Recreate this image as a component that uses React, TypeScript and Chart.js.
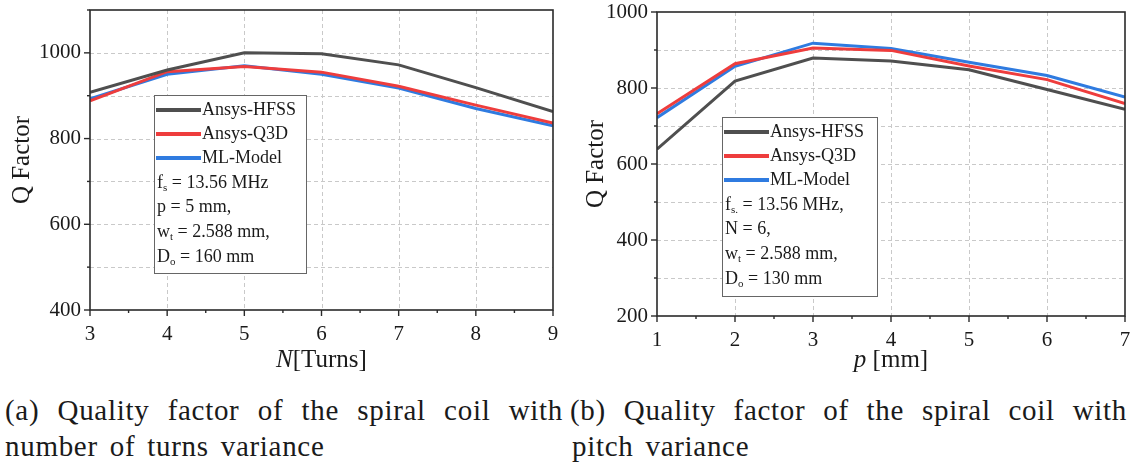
import React, { useEffect, useRef } from "react";
import { Chart, registerables } from "chart.js";
Chart.register(...registerables);

// ---------- data ----------
const turnsX = [3, 4, 5, 6, 7, 8, 9];
const turnsHFSS = [908, 960, 1000, 998, 972, 919, 863];
const turnsQ3D = [888, 956, 968, 955, 922, 878, 836];
const turnsML = [893, 950, 970, 950, 918, 870, 830];

const pitchX = [1, 2, 3, 4, 5, 6, 7];
const pitchHFSS = [639, 818, 879, 871, 848, 796, 744];
const pitchQ3D = [732, 864, 905, 899, 858, 822, 759];
const pitchML = [722, 857, 918, 904, 868, 833, 776];

const seriesNames = ["Ansys-HFSS", "Ansys-Q3D", "ML-Model"];
const seriesColors = ["#4f4f4f", "#ee3d3d", "#2f7be0"];

type Part = { t: string; sub?: boolean };
const turnsNotes: Part[][] = [
  [{ t: "f" }, { t: "s", sub: true }, { t: " = 13.56 MHz" }],
  [{ t: "p = 5 mm," }],
  [{ t: "w" }, { t: "t", sub: true }, { t: " = 2.588 mm," }],
  [{ t: "D" }, { t: "o", sub: true }, { t: " = 160 mm" }],
];
const pitchNotes: Part[][] = [
  [{ t: "f" }, { t: "s.", sub: true }, { t: " = 13.56 MHz," }],
  [{ t: "N = 6," }],
  [{ t: "w" }, { t: "t", sub: true }, { t: " = 2.588 mm," }],
  [{ t: "D" }, { t: "o", sub: true }, { t: " = 130 mm" }],
];

const SERIF = "'Liberation Serif', 'Times New Roman', serif";

function drawRich(ctx: CanvasRenderingContext2D, x: number, y: number, parts: Part[], size: number) {
  let cx = x;
  for (const p of parts) {
    if (p.sub) {
      ctx.font = `${Math.round(size * 0.62)}px ${SERIF}`;
      ctx.fillText(p.t, cx, y + size * 0.3);
    } else {
      ctx.font = `${size}px ${SERIF}`;
      ctx.fillText(p.t, cx, y);
    }
    cx += ctx.measureText(p.t).width;
  }
}

type Props = {
  width: number;
  height: number;
  xs: number[];
  series: number[][];
  xMin: number;
  xMax: number;
  yMin: number;
  yMax: number;
  yLabelMax: number;
  area: { left: number; right: number; top: number; bottom: number };
  xTitleItalic: string;
  xTitleRest: string;
  yTitleX: number;
  legendBox: { x: number; y: number; w: number; h: number };
  notes: Part[][];
};

function zeroPad(s: any) {
  s.paddingTop = 0;
  s.paddingBottom = 0;
  s.paddingLeft = 0;
  s.paddingRight = 0;
}

function QChart(props: Props) {
  const ref = useRef<HTMLCanvasElement | null>(null);
  useEffect(() => {
    const canvas = ref.current!;
    const { width, height, area } = props;

    const overlay = {
      id: "overlay",
      beforeDatasetsDraw(chart: any) {
        const ctx = chart.ctx as CanvasRenderingContext2D;
        const ca = chart.chartArea;
        const xs = chart.scales.x;
        const ys = chart.scales.y;
        ctx.save();
        ctx.strokeStyle = "#c9c9c9";
        ctx.lineWidth = 1;
        ctx.setLineDash([4, 3]);
        for (let v = props.yMin + 100; v < props.yMax; v += 100) {
          const py = Math.round(ys.getPixelForValue(v)) + 0.5;
          ctx.beginPath();
          ctx.moveTo(ca.left, py);
          ctx.lineTo(ca.right, py);
          ctx.stroke();
        }
        for (let v = props.xMin + 1; v < props.xMax; v += 1) {
          const px = Math.round(xs.getPixelForValue(v)) + 0.5;
          ctx.beginPath();
          ctx.moveTo(px, ca.top);
          ctx.lineTo(px, ca.bottom);
          ctx.stroke();
        }
        ctx.restore();
      },
      afterDatasetsDraw(chart: any) {
        const ctx = chart.ctx as CanvasRenderingContext2D;
        const ca = chart.chartArea;
        const xs = chart.scales.x;
        const ys = chart.scales.y;
        ctx.save();
        // frame
        ctx.strokeStyle = "#2a2a2a";
        ctx.lineWidth = 1.6;
        ctx.setLineDash([]);
        ctx.strokeRect(ca.left, ca.top, ca.right - ca.left, ca.bottom - ca.top);
        // ticks
        ctx.lineWidth = 1.4;
        for (let v = props.yMin; v <= props.yMax; v += 100) {
          const py = ys.getPixelForValue(v);
          const len = v % 200 === 0 ? 6 : 3;
          ctx.beginPath();
          ctx.moveTo(ca.left, py);
          ctx.lineTo(ca.left - len, py);
          ctx.stroke();
        }
        for (let v = props.xMin; v <= props.xMax + 1e-6; v += 0.5) {
          const px = xs.getPixelForValue(v);
          const len = Number.isInteger(v) ? 6 : 3;
          ctx.beginPath();
          ctx.moveTo(px, ca.bottom);
          ctx.lineTo(px, ca.bottom + len);
          ctx.stroke();
        }
        // axis titles
        ctx.fillStyle = "#1a1a1a";
        ctx.textBaseline = "middle";
        ctx.save();
        ctx.translate(props.yTitleX, (ca.top + ca.bottom) / 2);
        ctx.rotate(-Math.PI / 2);
        ctx.textAlign = "center";
        ctx.font = `25px ${SERIF}`;
        ctx.fillText("Q Factor", 0, 0);
        ctx.restore();
        ctx.textAlign = "left";
        ctx.font = `italic 25px ${SERIF}`;
        const w1 = ctx.measureText(props.xTitleItalic).width;
        ctx.font = `25px ${SERIF}`;
        const w2 = ctx.measureText(props.xTitleRest).width;
        const cx = (ca.left + ca.right) / 2;
        const sx = cx - (w1 + w2) / 2;
        ctx.font = `italic 25px ${SERIF}`;
        ctx.fillText(props.xTitleItalic, sx, 360);
        ctx.font = `25px ${SERIF}`;
        ctx.fillText(props.xTitleRest, sx + w1, 360);
        // legend box
        const b = props.legendBox;
        ctx.fillStyle = "#ffffff";
        ctx.fillRect(b.x, b.y, b.w, b.h);
        ctx.strokeStyle = "#666";
        ctx.lineWidth = 1;
        ctx.strokeRect(b.x + 0.5, b.y + 0.5, b.w, b.h);
        const rows = [15, 39, 63, 88, 112, 137, 162];
        ctx.textBaseline = "middle";
        for (let i = 0; i < 3; i++) {
          const ry = b.y + rows[i];
          ctx.strokeStyle = seriesColors[i];
          ctx.lineWidth = 4;
          ctx.beginPath();
          ctx.moveTo(b.x + 2, ry);
          ctx.lineTo(b.x + 47, ry);
          ctx.stroke();
          ctx.fillStyle = "#1a1a1a";
          ctx.font = `18px ${SERIF}`;
          ctx.fillText(seriesNames[i], b.x + 48, ry);
        }
        ctx.fillStyle = "#1a1a1a";
        props.notes.forEach((n, i) => {
          drawRich(ctx, b.x + 3, b.y + rows[3 + i], n, 18);
        });
        ctx.restore();
      },
    };

    const chart = new Chart(canvas, {
      type: "line",
      data: {
        datasets: props.series.map((s, i) => ({
          label: seriesNames[i],
          data: props.xs.map((x, j) => ({ x, y: s[j] })),
          borderColor: seriesColors[i],
          backgroundColor: seriesColors[i],
          borderWidth: 3,
          pointRadius: 0,
          tension: 0,
          fill: false,
        })),
      },
      options: {
        responsive: false,
        animation: false,
        devicePixelRatio: 1,
        layout: {
          padding: { left: 0, top: area.top, right: width - area.right, bottom: 0 },
        },
        plugins: { legend: { display: false }, tooltip: { enabled: false }, title: { display: false } },
        scales: {
          x: {
            type: "linear",
            min: props.xMin,
            max: props.xMax,
            grid: { display: false, drawTicks: false },
            border: { display: false },
            ticks: {
              stepSize: 1,
              padding: 12,
              color: "#1a1a1a",
              font: { family: SERIF, size: 21 },
              maxRotation: 0,
              autoSkip: false,
            },
            afterFit: (s: any) => {
              s.height = height - area.bottom;
              zeroPad(s);
            },
          },
          y: {
            type: "linear",
            min: props.yMin,
            max: props.yMax,
            grid: { display: false, drawTicks: false },
            border: { display: false },
            ticks: {
              stepSize: 100,
              padding: 9,
              color: "#1a1a1a",
              font: { family: SERIF, size: 21 },
              autoSkip: false,
              callback: (v: any) => (v % 200 === 0 && v <= props.yLabelMax ? String(v) : ""),
            },
            afterFit: (s: any) => {
              s.width = area.left;
              zeroPad(s);
            },
          },
        },
      },
      plugins: [overlay],
    } as any);
    return () => chart.destroy();
  }, []);
  return (
    <canvas
      ref={ref}
      width={props.width}
      height={props.height}
      style={{ width: props.width, height: props.height, display: "block" }}
    />
  );
}

const capStyle: React.CSSProperties = {
  position: "absolute",
  fontFamily: SERIF,
  fontSize: 29,
  color: "#1a1a1a",
  whiteSpace: "nowrap",
  lineHeight: "32px",
  letterSpacing: "0.7px",
};

export default function App() {
  return (
    <div style={{ position: "absolute", left: 0, top: 0, width: 1132, height: 464, background: "#fff", overflow: "hidden" }}>
      <div style={{ position: "absolute", left: 0, top: 0 }}>
        <QChart
          width={566}
          height={380}
          xs={turnsX}
          series={[turnsHFSS, turnsQ3D, turnsML]}
          xMin={3}
          xMax={9}
          yMin={400}
          yMax={1100}
          yLabelMax={1000}
          area={{ left: 90, right: 553, top: 10, bottom: 310 }}
          xTitleItalic="N"
          xTitleRest="[Turns]"
          yTitleX={22}
          legendBox={{ x: 154, y: 95, w: 152, h: 178 }}
          notes={turnsNotes}
        />
      </div>
      <div style={{ position: "absolute", left: 566, top: 0 }}>
        <QChart
          width={566}
          height={380}
          xs={pitchX}
          series={[pitchHFSS, pitchQ3D, pitchML]}
          xMin={1}
          xMax={7}
          yMin={200}
          yMax={1000}
          yLabelMax={1000}
          area={{ left: 91, right: 559, top: 12, bottom: 316 }}
          xTitleItalic="p"
          xTitleRest=" [mm]"
          yTitleX={30}
          legendBox={{ x: 156, y: 117, w: 155, h: 179 }}
          notes={pitchNotes}
        />
      </div>
      <div style={{ ...capStyle, left: 5, top: 394, width: 558, textAlign: "justify", textAlignLast: "justify" as any }}>
        (a) Quality factor of the spiral coil with
      </div>
      <div style={{ ...capStyle, left: 5, top: 430, wordSpacing: "4px" }}>number of turns variance</div>
      <div style={{ ...capStyle, left: 570, top: 394, width: 557, textAlign: "justify", textAlignLast: "justify" as any }}>
        (b) Quality factor of the spiral coil with
      </div>
      <div style={{ ...capStyle, left: 572, top: 430, wordSpacing: "4px" }}>pitch variance</div>
    </div>
  );
}
